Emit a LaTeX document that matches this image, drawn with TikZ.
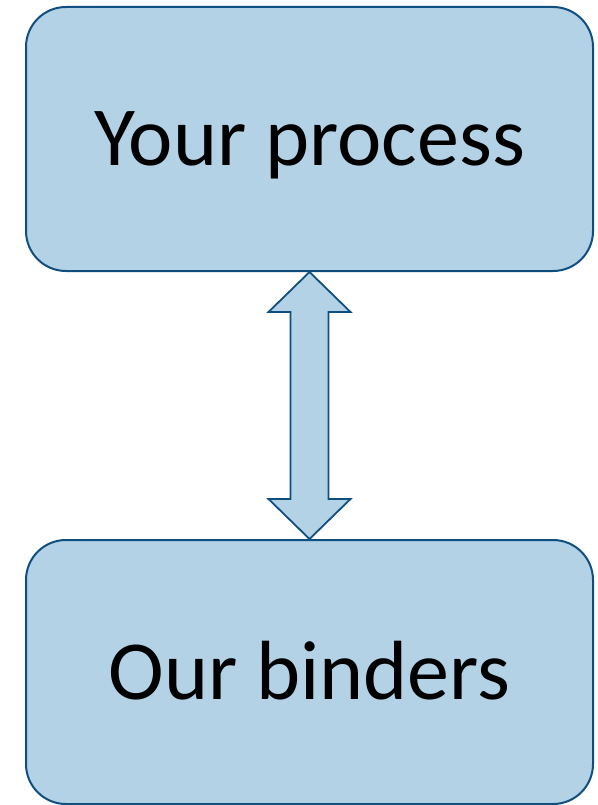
\documentclass[tikz,border=0pt]{standalone}
\usepackage{fontspec}
\setmainfont{Carlito}
\usetikzlibrary{calc}
\definecolor{boxfill}{HTML}{B4D2E6}
\definecolor{boxline}{HTML}{0F4F80}
\tikzset{
    stagebox/.style={draw=boxline, fill=boxfill, line width=2pt, rounded corners=40pt,
        minimum width=567pt, minimum height=264pt, inner sep=0pt,
        text height=54pt, text depth=0pt, font=\fontsize{84}{100}\selectfont},
    linkarrow/.style={draw=boxline, fill=boxfill, line width=1.8pt, line join=miter}
}
\begin{document}
\begin{tikzpicture}

\useasboundingbox (0,0) rectangle (597pt,-805pt);

\node[stagebox] (process) at (309.5pt,-139pt) {Your process};
\node[stagebox] (binders) at (309.5pt,-672pt) {Our binders};

\draw[linkarrow] (process.south) -- ++(41pt,-40pt) -- ++(-22pt,0)
    -- ($(binders.north)+(19pt,40pt)$) -- ++(22pt,0) -- (binders.north)
    -- ++(-41pt,40pt) -- ++(22pt,0)
    -- ($(process.south)+(-19pt,-40pt)$) -- ++(-22pt,0) -- cycle;

\end{tikzpicture}
\end{document}
